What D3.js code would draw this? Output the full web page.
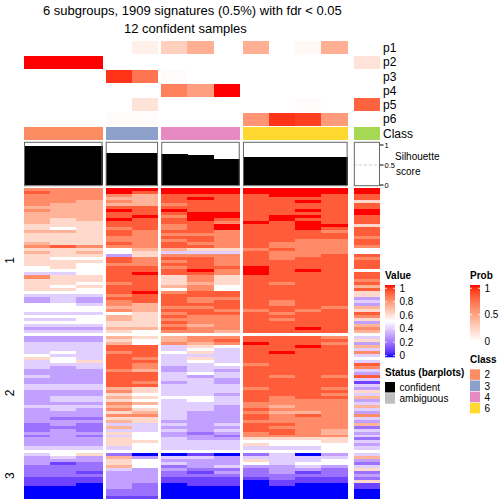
<!DOCTYPE html>
<html><head><meta charset="utf-8">
<script src="https://cdn.jsdelivr.net/npm/d3@7"></script>
<style>body{margin:0;background:#fff} svg{display:block;font-family:"Liberation Sans",Arial,Helvetica,sans-serif}</style>
</head><body><svg id="c" width="504" height="504"></svg>
<script>
// ---------------- data ----------------
const titleLines = ["6 subgroups, 1909 signatures (0.5%) with fdr < 0.05", "12 confident samples"];
const classes = [2,2,2,3,3,4,4,4,6,6,6,6,5];
const classColors = {2:"#FC8D62",3:"#8DA0CB",4:"#E78AC3",5:"#A6D854",6:"#FFD92F"};
const legendClasses = [2,3,4,6];
const probNames = ["p1","p2","p3","p4","p5","p6"];
const p1 = [0,0,0,0,0.08,0.25,0.42,0,0.42,0,0.04,0.42,0];
const p2 = [1,1,1,0,0,0,0,0,0,0,0,0,0.15];
const p3 = [0,0,0,0.93,0.7,0.02,0,0,0,0,0,0,0];
const p4 = [0,0,0,0,0,0.65,0.5,1,0,0,0,0,0];
const p5 = [0,0,0,0,0.15,0,0,0,0,0,0.02,0,0.78];
const p6 = [0,0,0,0.02,0.02,0,0,0,0.55,0.93,0.9,0.52,0];
const silhouette = [0.98,0.98,0.98,0.79,0.79,0.775,0.75,0.65,0.70,0.70,0.70,0.70,0];
const silTicks = [0,0.5,1];
const valueTicks = [0,0.2,0.4,0.6,0.8,1];
const probTicks = [0,0.5,1];
const sliceNames = ["1","2","3"];
// one char per sample: 0-9 => 0.0-0.9, a => 1.0
const slice1 = [
"888 aa aaa aaaa a","988 a9 aaa aaaa a","888 87 999 9aa9 9","888 77 9a9 9999 9",
"887 87 999 99a9 6","877 77 899 9999 9","777 99 999 9999 9","877 a9 a99 99a9 a",
"777 99 9aa 9999 a","777 9a 8aa 9aa9 9","767 a9 9a9 9a99 9","766 99 998 a9a9 9",
"666 99 89a 99aa 6","656 89 89a 99a9 9","776 98 998 9998 9","666 98 888 9999 9",
"666 88 998 9999 8","666 88 898 9988 9","766 98 988 9888 9","898 88 998 9888 8",
"666 57 766 8988 5","767 56 444 9888 5","666 36 888 9889 9","655 98 998 9899 8",
"666 98 898 9999 9","665 88 998 9999 9","565 99 899 a999 9","555 99 9a8 a9a9 5",
"445 9a 998 a999 9","866 99 686 9999 9","666 99 686 9999 8","665 89 676 9899 9",
"656 99 785 9999 7","665 99 585 9999 9","555 9a 899 9999 6","444 89 999 9999 6",
"343 99 988 9999 3","343 89 989 9899 4","554 87 999 9899 3","555 77 889 9998 7",
"555 87 998 8989 6","444 56 899 9899 9","555 76 988 9999 8","445 76 888 9899 6",
"555 66 988 9999 3","444 66 878 9999 7","333 77 988 99a9 8","444 65 887 9999 7"
];
const slice2 = [
"333 76 788 9998 4","333 65 789 9999 6","444 75 878 a998 3","444 99 465 99a9 7",
"444 99 454 9999 4","454 89 564 9a99 8","544 99 444 9999 4","654 98 464 9999 5",
"456 99 454 9999 4","444 98 445 8999 9","434 98 344 9999 8","333 87 343 9999 4",
"333 99 454 9999 3","433 99 434 9898 9","333 99 443 9999 4","333 98 343 9999 1",
"444 99 444 9999 4","444 76 444 8998 3","333 86 444 9999 6","333 65 443 9998 4",
"344 76 554 9899 7","344 65 454 9888 3","333 87 444 8888 4","444 75 443 8788 7",
"343 86 443 9888 4","333 67 433 8778 3","333 88 433 9898 8","322 66 433 9888 4",
"333 76 333 8888 3","232 44 434 9988 7","222 74 333 9888 2","232 44 434 9987 4",
"333 65 323 8987 3","232 45 332 8888 4","333 65 433 6666 2","333 66 444 5556 4",
"333 65 444 6555 3","444 45 444 4445 4"
];
const slice3 = [
"456 20 010 2403 4","343 73 443 4444 7","333 65 333 6445 3","312 65 433 5455 2",
"222 75 234 3343 4","222 43 322 2332 6","221 33 213 2312 2","222 33 222 2222 3",
"111 33 111 1211 2","111 33 111 0111 6","110 32 011 0100 1","000 32 000 0000 1",
"000 22 000 0000 0","000 22 000 0000 0","000 11 000 0000 0"
];
const slices = [slice1, slice2, slice3];

// ---------------- layout ----------------
const svg = d3.select("#c");
const X0 = 24, X1 = 380;
const gapPx = 3.2, lastGapPx = 6.2;
const groups = [];
classes.forEach((c,i)=>{ if(!groups.length || classes[i-1]!==c) groups.push({cls:c, idx:[]}); groups[groups.length-1].idx.push(i); });
const gapBefore = [];
groups.forEach((g,gi)=>{ gapBefore[gi] = gi===0 ? 0 : gapBefore[gi-1] + (gi===groups.length-1 ? lastGapPx : gapPx); });
const totalGap = gapBefore[groups.length-1];
const colW = (X1 - X0 - totalGap) / classes.length;
const colScale = d3.scaleLinear().domain([0, classes.length]).range([0, colW*classes.length]);
const groupOf = []; groups.forEach((g,gi)=>g.idx.forEach(i=>groupOf[i]=gi));
const xOf = i => X0 + colScale(i) + gapBefore[groupOf[i]];
const wOf = colScale(1) - colScale(0);

const colorVal = d3.scaleLinear().domain([0,0.5,1]).range(["#0000FF","#FFFFFF","#FF0000"]).interpolate(d3.interpolateLab).clamp(true);
const colorProb = d3.scaleLinear().domain([0,1]).range(["#FFFFFF","#FF0000"]).interpolate(d3.interpolateLab).clamp(true);

// title
svg.append("text").attr("x",43).attr("y",14.5).attr("font-size",13).text(titleLines[0]);
svg.append("text").attr("x",124).attr("y",32.5).attr("font-size",13).text(titleLines[1]);

// top annotations
const annRows = probNames.concat(["Class"]);
const yAnn = d3.scaleBand().domain(annRows).range([41.3,140]).paddingInner(0.08);
const probData = [p1,p2,p3,p4,p5,p6];
probNames.forEach((nm,k)=>{
  svg.append("g").selectAll("rect").data(probData[k]).join("rect")
    .attr("x",(d,i)=>xOf(i)).attr("y",yAnn(nm)).attr("width",wOf+0.3).attr("height",yAnn.bandwidth())
    .attr("fill",d=>colorProb(d)).attr("shape-rendering","crispEdges");
});
svg.append("g").selectAll("rect").data(classes).join("rect")
  .attr("x",(d,i)=>xOf(i)).attr("y",yAnn("Class")).attr("width",wOf+0.3).attr("height",yAnn.bandwidth())
  .attr("fill",d=>classColors[d]).attr("shape-rendering","crispEdges");
svg.append("g").selectAll("text").data(annRows).join("text")
  .attr("x",383).attr("y",d=>yAnn(d)+yAnn.bandwidth()/2).attr("dy","0.36em")
  .attr("font-size",12).text(d=>d);

// silhouette barplot
const silTop = 142.3, silBot = 185.7;
const ySil = d3.scaleLinear().domain([0,1]).range([185,145]);
groups.forEach((g,gi)=>{
  const gx0 = xOf(g.idx[0]), gx1 = xOf(g.idx[g.idx.length-1]) + wOf;
  svg.append("line").attr("x1",gx0).attr("x2",gx1).attr("y1",ySil(0.5)).attr("y2",ySil(0.5))
    .attr("stroke","#cccccc").attr("stroke-dasharray","3,2");
  svg.append("g").selectAll("rect").data(g.idx).join("rect")
    .attr("x",i=>xOf(i)).attr("width",wOf+0.3)
    .attr("y",i=>ySil(silhouette[i])).attr("height",i=>ySil(0)-ySil(silhouette[i]))
    .attr("fill","#000").attr("shape-rendering","crispEdges");
  svg.append("rect").attr("x",gx0+0.5).attr("y",silTop).attr("width",gx1-gx0-1).attr("height",silBot-silTop)
    .attr("fill","none").attr("stroke","#666").attr("stroke-width",1);
});
const silAxis = svg.append("g");
silTicks.forEach(t=>{
  silAxis.append("line").attr("x1",380).attr("x2",383.5).attr("y1",ySil(t)).attr("y2",ySil(t)).attr("stroke","#000");
  silAxis.append("text").attr("x",384.5).attr("y",ySil(t)).attr("dy","0.35em").attr("font-size",7.5).text(t);
});
svg.append("text").attr("x",395).attr("y",160).attr("font-size",10).text("Silhouette");
svg.append("text").attr("x",396).attr("y",174.5).attr("font-size",10).text("score");

// heatmap
const sliceRanges = [[188,332.8],[336.2,449.4],[452.8,498.6]];
slices.forEach((rows,s)=>{
  const data = rows.map(r=>r.replace(/\s/g,"").split("").map(c=>c==="a"?1:(+c)/10));
  const yb = d3.scaleBand().domain(d3.range(data.length)).range(sliceRanges[s]);
  const g = svg.append("g");
  data.forEach((row,ri)=>{
    g.selectAll(null).data(row).join("rect")
      .attr("x",(d,i)=>xOf(i)).attr("y",yb(ri)).attr("width",wOf+0.3).attr("height",yb.bandwidth()+0.3)
      .attr("fill",d=>colorVal(d)).attr("shape-rendering","crispEdges");
  });
  const my = (sliceRanges[s][0]+sliceRanges[s][1])/2;
  svg.append("text").attr("transform",`translate(14,${my}) rotate(-90)`).attr("text-anchor","middle")
    .attr("font-size",12).text(sliceNames[s]);
});

// legends
const defs = svg.append("defs");
function gradient(id, scale){
  const lg = defs.append("linearGradient").attr("id",id).attr("x1",0).attr("y1",1).attr("x2",0).attr("y2",0);
  d3.range(0,1.0001,0.05).forEach(t=>lg.append("stop").attr("offset",t).attr("stop-color",scale(t)));
}
gradient("gVal", colorVal);
gradient("gProb", colorProb);
svg.append("text").attr("x",385).attr("y",279).attr("font-size",10).attr("font-weight","bold").text("Value");
const yValLeg = d3.scaleLinear().domain([0,1]).range([355.7,288.3]);
svg.append("rect").attr("x",385).attr("y",285).attr("width",10).attr("height",72.3).attr("fill","url(#gVal)");
valueTicks.forEach(t=>{
  svg.append("line").attr("x1",385).attr("x2",387).attr("y1",yValLeg(t)).attr("y2",yValLeg(t)).attr("stroke","#fff").attr("stroke-width",0.8);
  svg.append("line").attr("x1",393).attr("x2",395).attr("y1",yValLeg(t)).attr("y2",yValLeg(t)).attr("stroke","#fff").attr("stroke-width",0.8);
  svg.append("text").attr("x",399.5).attr("y",yValLeg(t)).attr("dy","0.36em").attr("font-size",10).text(t);
});
svg.append("text").attr("x",470).attr("y",279).attr("font-size",10).attr("font-weight","bold").text("Prob");
const yProbLeg = d3.scaleLinear().domain([0,1]).range([341,288.3]);
svg.append("rect").attr("x",470).attr("y",285).attr("width",10).attr("height",56.5).attr("fill","url(#gProb)");
probTicks.forEach(t=>{
  svg.append("line").attr("x1",470).attr("x2",472).attr("y1",yProbLeg(t)).attr("y2",yProbLeg(t)).attr("stroke","#fff").attr("stroke-width",0.8);
  svg.append("line").attr("x1",478).attr("x2",480).attr("y1",yProbLeg(t)).attr("y2",yProbLeg(t)).attr("stroke","#fff").attr("stroke-width",0.8);
  svg.append("text").attr("x",484.5).attr("y",yProbLeg(t)).attr("dy","0.36em").attr("font-size",10).text(t);
});
svg.append("text").attr("x",470).attr("y",363).attr("font-size",10).attr("font-weight","bold").text("Class");
const yClsLeg = d3.scaleBand().domain(legendClasses).range([369.3,414]);
legendClasses.forEach(c=>{
  svg.append("rect").attr("x",470).attr("y",yClsLeg(c)).attr("width",10).attr("height",yClsLeg.bandwidth()-0.6)
    .attr("fill",classColors[c]);
  svg.append("text").attr("x",484.5).attr("y",yClsLeg(c)+yClsLeg.bandwidth()/2).attr("dy","0.36em").attr("font-size",10).text(c);
});
const statusNames = ["confident","ambiguous"];
const statusColors = ["#000000","#BEBEBE"];
svg.append("text").attr("x",385).attr("y",376).attr("font-size",10).attr("font-weight","bold").text("Status (barplots)");
const yStat = d3.scaleBand().domain(statusNames).range([382,404.5]);
statusNames.forEach((s,k)=>{
  svg.append("rect").attr("x",385).attr("y",yStat(s)).attr("width",10).attr("height",yStat.bandwidth()-0.8).attr("fill",statusColors[k]);
  svg.append("text").attr("x",399.5).attr("y",yStat(s)+yStat.bandwidth()/2).attr("dy","0.36em").attr("font-size",10).text(s);
});
</script></body></html>
